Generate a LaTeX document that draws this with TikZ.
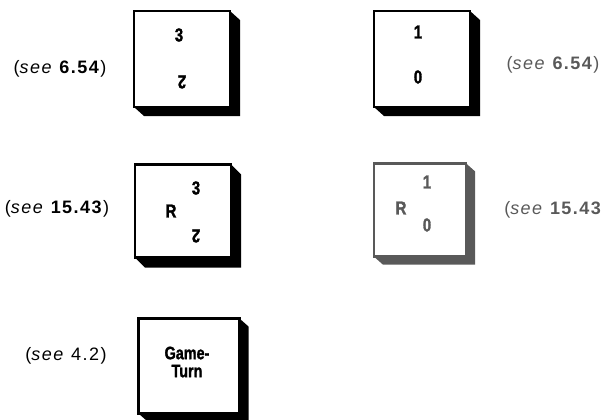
\documentclass[tikz,border=0pt]{standalone}
\usepackage{fontspec}
\setmainfont{Liberation Sans}
\newfontfamily\seefont[LetterSpace=8]{Liberation Sans}
\newfontfamily\ctrfont[FakeStretch=0.8,FakeBold=1.5]{Liberation Sans}
\definecolor{faded}{gray}{0.35}

\begin{document}
\begin{tikzpicture}[x=0.75pt,y=-0.75pt,
	counter/.style={draw,line width=1.9pt,fill=white,minimum width=72pt,minimum height=72pt,inner sep=0pt,outer sep=0pt},
	num/.style={font=\ctrfont\bfseries\fontsize{14}{14}\selectfont,inner sep=0pt},
	see/.style={font=\seefont\fontsize{13.5}{15}\selectfont,inner sep=0pt}]
				\useasboundingbox (0,0) rectangle (610,419);

				% top row
				\node[counter] (c1) at (182,59) {};
				\fill (c1.north east) -- ++(10,9) |- ([shift={(10,9)}]c1.south west) -- (c1.south west) -- (c1.south east) -- cycle;
				\node[num] (c1a) at (179,35) {3};
				\node[num,rotate=180] (c1b) at (182,82) {2};
				\node[see] (s1) at (60,69) {(\textit{see} \textbf{6.54})};

				\node[counter] (c2) at (422,59) {};
				\fill (c2.north east) -- ++(10,9) |- ([shift={(10,9)}]c2.south west) -- (c2.south west) -- (c2.south east) -- cycle;
				\node[num] (c2a) at (418,32) {1};
				\node[num] (c2b) at (418,77) {0};
				\node[see,text=faded] (s2) at (553,65) {(\textit{see} \textbf{6.54})};

				% middle row
				\node[counter,minimum height=70pt] (c3) at (183,211) {};
				\fill (c3.north east) -- ++(10,10) |- ([shift={(10,10)}]c3.south west) -- (c3.south west) -- (c3.south east) -- cycle;
				\node[num] (c3r) at (171,211) {R};
				\node[num] (c3a) at (196,188) {3};
				\node[num,rotate=180] (c3b) at (196,236) {2};
				\node[see] (s3) at (57,209) {(\textit{see} \textbf{15.43})};

				\node[counter,draw=faded,minimum width=69pt,minimum height=70pt] (c4) at (420,210) {};
				\fill[faded] (c4.north east) -- ++(9,8) |- ([shift={(9,8)}]c4.south west) -- (c4.south west) -- (c4.south east) -- cycle;
				\node[num,text=faded] (c4r) at (401,208) {R};
				\node[num,text=faded] (c4a) at (427,182) {1};
				\node[num,text=faded] (c4b) at (427,225) {0};
				\node[see,text=faded,anchor=west] (s4) at (504,210) {(\textit{see} \textbf{15.43}};

				% bottom row
				\node[counter,minimum width=76pt,minimum height=71pt] (c5) at (189,366) {};
				\fill (c5.north east) -- ++(9,8) |- ([shift={(9,8)}]c5.south west) -- (c5.south west) -- (c5.south east) -- cycle;
				\node[num,font=\ctrfont\bfseries\fontsize{13.5}{13.5}\selectfont,align=center] (c5t) at (187,362) {Game-\\Turn};
				\node[see] (s5) at (66,356) {(\textit{see} 4.2)};
			\end{tikzpicture}
\end{document}
